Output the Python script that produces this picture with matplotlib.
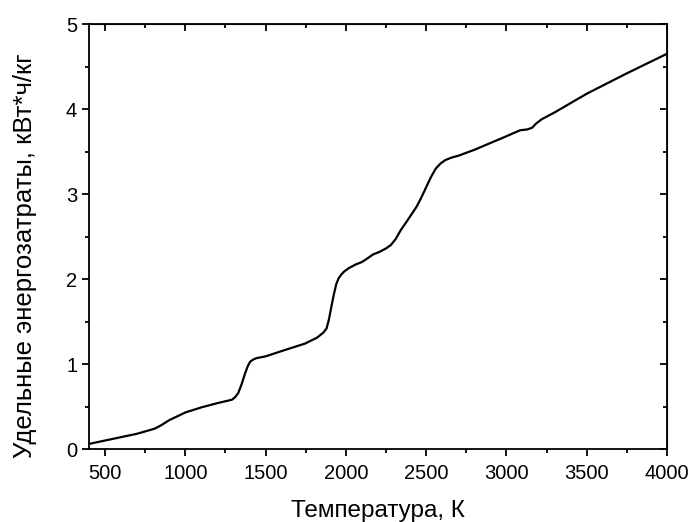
import matplotlib
matplotlib.use('Agg')
import matplotlib.pyplot as plt
from matplotlib.ticker import MultipleLocator

plt.rcParams['font.family'] = ['Liberation Sans', 'DejaVu Sans']

# temperature, K
temp = [400, 500, 600, 700, 810, 850, 900, 1000, 1100, 1200, 1290, 1310, 1330,
        1350, 1372, 1390, 1405, 1425, 1445, 1500, 1620, 1745, 1820, 1860, 1880,
        1895, 1910, 1925, 1940, 1955, 1970, 1990, 2020, 2060, 2100, 2140, 2170,
        2210, 2250, 2280, 2310, 2340, 2380, 2440, 2470, 2500, 2530, 2560, 2590,
        2620, 2660, 2700, 2800, 2900, 3000, 3085, 3130, 3160, 3185, 3220, 3300,
        3500, 3750, 4000]
# specific energy consumption, kWh/kg
energy = [0.06, 0.10, 0.14, 0.18, 0.24, 0.28, 0.34, 0.43, 0.49, 0.54, 0.58, 0.61, 0.66,
          0.76, 0.89, 0.98, 1.03, 1.055, 1.07, 1.09, 1.165, 1.24, 1.31, 1.37, 1.42,
          1.53, 1.68, 1.82, 1.94, 2.01, 2.05, 2.09, 2.13, 2.17, 2.20, 2.25, 2.29,
          2.32, 2.36, 2.40, 2.47, 2.57, 2.68, 2.85, 2.96, 3.08, 3.20, 3.30, 3.36,
          3.40, 3.43, 3.45, 3.52, 3.60, 3.68, 3.75, 3.76, 3.78, 3.83, 3.88, 3.96,
          4.18, 4.42, 4.65]

fig = plt.figure(figsize=(6.91, 5.22), dpi=100)
ax = fig.add_axes([0.1288, 0.1398, 0.8365, 0.8142])

ax.plot(temp, energy, color='black', linewidth=1.6, solid_joinstyle='round')

ax.set_xlim(400, 4000)
ax.set_ylim(0, 5)
ax.xaxis.set_major_locator(MultipleLocator(500))
ax.xaxis.set_minor_locator(MultipleLocator(250))
ax.yaxis.set_major_locator(MultipleLocator(1))
ax.yaxis.set_minor_locator(MultipleLocator(0.5))

for s in ax.spines.values():
    s.set_linewidth(1.3)

ax.tick_params(which='major', direction='out', length=5, width=1.3, labelsize=14.5)
ax.tick_params(axis='x', which='major', pad=6)
ax.tick_params(which='minor', direction='out', length=3, width=1.3)

# top and right: ticks point inward, no labels
top = ax.secondary_xaxis('top')
top.xaxis.set_major_locator(MultipleLocator(500))
top.xaxis.set_minor_locator(MultipleLocator(250))
top.tick_params(which='major', direction='in', length=5, width=1.3, labeltop=False)
top.tick_params(which='minor', direction='in', length=3, width=1.3)
right = ax.secondary_yaxis('right')
right.yaxis.set_major_locator(MultipleLocator(1))
right.yaxis.set_minor_locator(MultipleLocator(0.5))
right.tick_params(which='major', direction='in', length=5, width=1.3, labelright=False)
right.tick_params(which='minor', direction='in', length=3, width=1.3)

ax.set_xlabel('Температура, К', fontsize=17.5, labelpad=12)
ax.set_ylabel('Удельные энергозатраты, кВт*ч/кг', fontsize=18.5)
ax.yaxis.set_label_coords(-0.09, 0.456)

plt.savefig('out.png')
